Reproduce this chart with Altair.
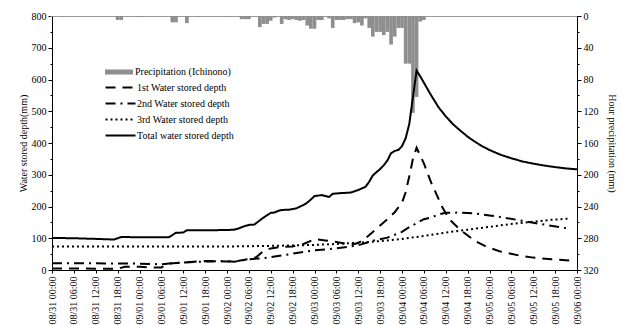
import json
import altair as alt
import pandas as pd

FONT = "Liberation Serif"

# x tick labels, one every 6 hours from 08/31 00:00
tick_labels = [
    "08/31 00:00", "08/31 06:00", "08/31 12:00", "08/31 18:00",
    "09/01 00:00", "09/01 06:00", "09/01 12:00", "09/01 18:00",
    "09/02 00:00", "09/02 06:00", "09/02 12:00", "09/02 18:00",
    "09/03 00:00", "09/03 06:00", "09/03 12:00", "09/03 18:00",
    "09/04 00:00", "09/04 06:00", "09/04 12:00", "09/04 18:00",
    "09/05 00:00", "09/05 06:00", "09/05 12:00", "09/05 18:00",
    "09/06 00:00",
]

# (hours since 08/31 00:00, depth mm)
total_depth = [
    (0, 101), (6, 100), (12, 98), (17, 96), (19, 104), (24, 103), (32, 103),
    (34, 117), (36, 118), (37, 125), (42, 125), (48, 126), (50, 127), (51, 130),
    (53, 139), (54, 142), (55.5, 143), (56.5, 152), (58, 165), (60, 180),
    (61, 181), (62, 186), (63, 189), (65, 190), (67, 194), (69, 205), (70, 212),
    (71, 222), (72, 233), (74, 236), (75, 233), (76, 230), (77, 240), (79, 242),
    (82, 244), (84, 252), (86, 262), (87, 278), (88, 298), (90, 318), (91, 330),
    (92, 345), (93, 368), (94, 375), (95, 378), (96, 390), (97, 415), (98, 460),
    (99, 545), (100, 628), (101, 610), (102, 590), (104, 550), (106, 513),
    (108, 484), (110, 459), (112, 439), (114, 420), (116, 404), (118, 390),
    (120, 378), (123, 363), (126, 352), (129, 342), (132, 335), (135, 329),
    (138, 324), (141, 320), (144, 317),
]

first_depth = [
    (0, 5), (6, 5), (12, 4), (18, 4), (20, 10), (24, 10), (28, 8), (30, 8),
    (32, 20), (36, 24), (42, 28), (48, 27), (50, 26), (54, 35), (56, 40),
    (58, 60), (60, 68), (63, 73), (66, 74), (69, 82), (72, 97), (75, 93),
    (78, 88), (82, 80), (84, 85), (86, 100), (88, 120), (90, 140), (92, 160),
    (94, 182), (96, 212), (97, 245), (98, 295), (99, 350), (100, 385),
    (102, 336), (104, 275), (105, 250), (107, 199), (109, 160), (112, 126),
    (116, 92), (119, 74), (123, 58), (128, 46), (132, 39), (137, 34), (142, 30),
]

second_depth = [
    (0, 21), (12, 21), (24, 20), (30, 18), (34, 22), (40, 26), (48, 28),
    (50, 26), (54, 34), (58, 37), (62, 44), (68, 55), (72, 62), (78, 68),
    (84, 78), (88, 92), (92, 102), (96, 120), (98, 135), (102, 160), (104, 165),
    (106, 175), (108, 180), (112, 181), (116, 178), (120, 172), (124, 165),
    (128, 157), (132, 149), (136, 141), (142, 130),
]

third_depth = [
    (0, 74), (48, 74), (60, 76), (72, 79), (78, 82), (84, 86), (90, 91),
    (96, 98), (100, 104), (104, 111), (108, 118), (114, 127), (120, 136),
    (126, 145), (132, 152), (137, 158), (142, 162),
]

# hourly precipitation at Ichinono (hour, mm); hours not listed had none
precipitation = [
    (0, 1), (3, 1), (18, 5), (19, 5), (24, 1), (25, 1), (33, 8), (34, 8),
    (37, 9), (40, 1), (48, 1), (52, 4), (53, 4), (54, 4), (57, 14), (58, 10),
    (59, 10), (60, 6), (61, 2), (63, 10), (64, 4), (65, 5), (66, 4), (67, 5),
    (68, 6), (69, 5), (70, 12), (71, 16), (72, 16), (73, 5), (74, 5), (76, 3),
    (77, 15), (78, 5), (79, 5), (80, 5), (81, 4), (82, 4), (83, 9), (84, 8),
    (85, 12), (86, 3), (87, 15), (88, 26), (89, 20), (90, 20), (91, 24),
    (92, 20), (93, 36), (94, 26), (95, 15), (96, 15), (97, 60), (98, 60),
    (99, 122), (100, 102), (101, 7), (102, 5),
]

series_names = [
    "1st Water stored depth",
    "2nd Water stored depth",
    "3rd Water stored depth",
    "Total water stored depth",
]
series_dashes = [[10, 7], [10, 5, 2, 5], [2, 3], [1, 0]]
series_widths = [2, 2, 2, 2.4]
rain_label = "Precipitation (Ichinono)"

rows = []
for name, pts in zip(series_names, [first_depth, second_depth, third_depth, total_depth]):
    for h, v in pts:
        rows.append({"hour": h, "depth": v, "series": name})
lines_df = pd.DataFrame(rows)

rain_df = pd.DataFrame(precipitation, columns=["hour", "mm"])
rain_df["start"] = rain_df["hour"] - 0.5
rain_df["end"] = rain_df["hour"] + 0.5
rain_df["label"] = rain_label

x_scale = alt.Scale(domain=[0, 144], nice=False, zero=False)
label_expr = json.dumps(tick_labels) + "[round(datum.value / 6)]"
x_axis = alt.Axis(
    values=list(range(0, 145, 6)), labelExpr=label_expr, labelAngle=-90,
    title=None, tickSize=3, labelPadding=3, grid=False,
)
depth_scale = alt.Scale(domain=[0, 800], nice=False)
rain_scale = alt.Scale(domain=[0, 320], reverse=True, nice=False)

bars = alt.Chart(rain_df).mark_rect(stroke=None).encode(
    x=alt.X("start:Q", scale=x_scale, axis=x_axis),
    x2="end:Q",
    y=alt.Y(
        "mm:Q",
        scale=rain_scale,
        axis=alt.Axis(
            orient="right", values=list(range(0, 321, 40)), tickSize=4,
            title="Hour precipitation (mm)", titlePadding=8, grid=False,
        ),
    ),
    y2=alt.datum(0),
    fill=alt.Fill(
        "label:N",
        scale=alt.Scale(domain=[rain_label], range=["#8e8e8e"]),
        legend=alt.Legend(
            orient="none", legendX=53, legendY=42, title=None, padding=0,
            symbolType="M-1,-0.18H1V0.18H-1Z", symbolSize=784,
            symbolStrokeWidth=0, labelOffset=2,
        ),
    ),
)

# legend line samples: a wide path on a small symbol so rows stay compact
lines = alt.Chart(lines_df).mark_line(color="black").encode(
    x=alt.X("hour:Q", scale=x_scale, axis=x_axis),
    y=alt.Y(
        "depth:Q",
        scale=depth_scale,
        axis=alt.Axis(
            orient="left", values=list(range(0, 801, 100)), tickSize=4,
            title="Water stored depth(mm)", titlePadding=3, grid=False,
        ),
    ),
    strokeDash=alt.StrokeDash(
        "series:N",
        scale=alt.Scale(domain=series_names, range=series_dashes),
        legend=alt.Legend(
            orient="none", legendX=60, legendY=63, title=None, padding=0,
            symbolType="M-2,0H2", symbolSize=225, symbolStrokeWidth=2,
            symbolStrokeColor="black", labelOffset=8, rowPadding=2,
        ),
    ),
    strokeWidth=alt.StrokeWidth(
        "series:N",
        scale=alt.Scale(domain=series_names, range=series_widths),
        legend=None,
    ),
)

# minor tick marks on both value axes
minor_left = alt.Chart(lines_df).mark_line(opacity=0).encode(
    x=alt.X("hour:Q", scale=x_scale, axis=x_axis),
    y=alt.Y(
        "depth:Q",
        scale=depth_scale,
        axis=alt.Axis(
            orient="left", values=list(range(50, 800, 100)), tickSize=2,
            labels=False, domain=False, title=None, grid=False,
        ),
    ),
    detail="series:N",
)

minor_right = alt.Chart(rain_df).mark_rect(opacity=0).encode(
    x=alt.X("start:Q", scale=x_scale, axis=x_axis),
    x2="end:Q",
    y=alt.Y(
        "mm:Q",
        scale=rain_scale,
        axis=alt.Axis(
            orient="right", values=list(range(20, 320, 40)), tickSize=2,
            labels=False, domain=False, title=None, grid=False,
        ),
    ),
    y2=alt.datum(0),
)

chart = (
    alt.layer(bars, minor_right, minor_left, lines)
    .resolve_scale(y="independent")
    .properties(
        width=525, height=254,
        autosize=alt.AutoSizeParams(type="none"),
        padding={"left": 52, "top": 16, "right": 45, "bottom": 55},
        background="white",
    )
    .configure_view(stroke="#9a9a9a", strokeWidth=1)
    .configure_axis(
        labelFont=FONT, labelFontSize=10, labelColor="black",
        titleFont=FONT, titleFontSize=10, titleColor="black",
        titleFontWeight="normal", domainColor="black", tickColor="black",
        domainWidth=1,
    )
    .configure_legend(
        labelFont=FONT, labelFontSize=10, labelColor="black", labelLimit=0,
    )
)

chart.save("out.html", embed_options={"renderer": "svg", "actions": False})
